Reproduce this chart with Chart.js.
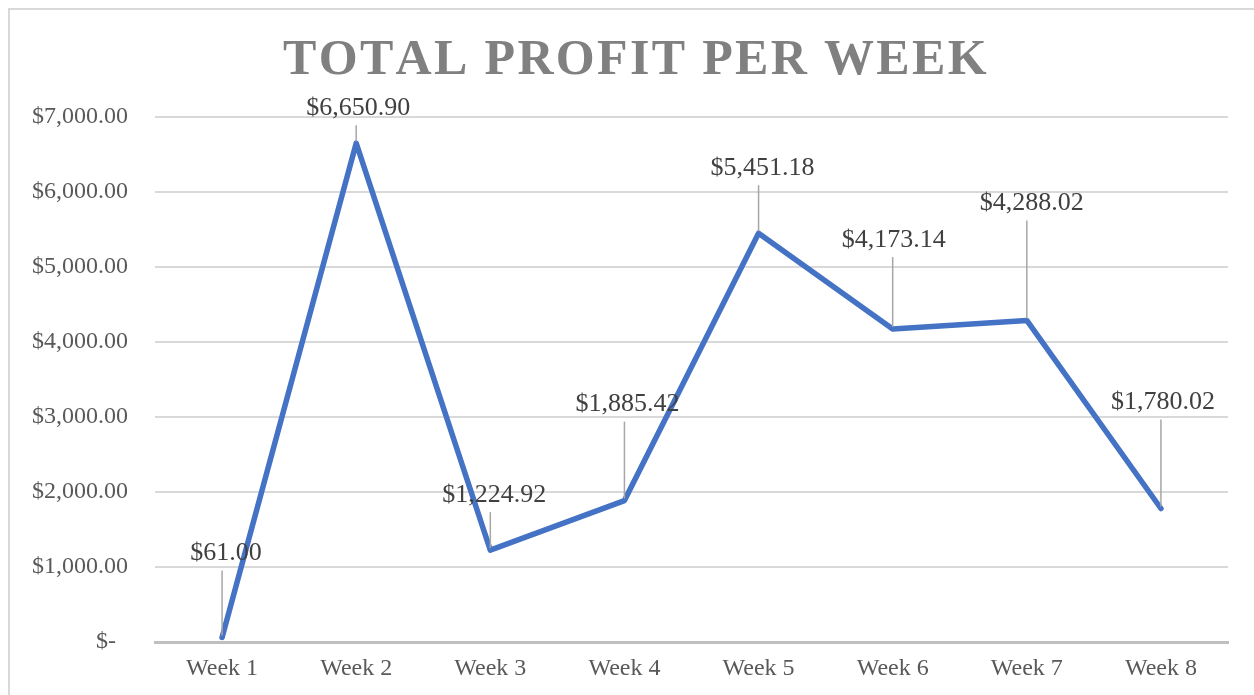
<!DOCTYPE html>
<html>
<head>
<meta charset="utf-8">
<script src="https://cdn.jsdelivr.net/npm/chart.js@4"></script>
<style>
  body { margin: 0; background: #fff; }
  canvas { display: block; }
</style>
</head>
<body>
<canvas id="chart" width="1254" height="695"></canvas>
<script>
"use strict";
///////////////////////////////
//Data
const weeks = ["Week 1", "Week 2", "Week 3", "Week 4", "Week 5", "Week 6", "Week 7", "Week 8"];
const profit = [61.0, 6650.9, 1224.92, 1885.42, 5451.18, 4173.14, 4288.02, 1780.02];
const yTicks = [0, 1000, 2000, 3000, 4000, 5000, 6000, 7000];
const chartTitle = "TOTAL PROFIT PER WEEK";

// where each data label sits, relative to its point (px)
const labelOffsets = [
  [4, -85], [2, -36], [4, -56], [3, -97],
  [4, -66], [1, -90], [5, -118], [2, -107],
];

const serif = '"Liberation Serif", "Times New Roman", serif';

const money = function (v) {
  if (v === 0) return "$-  ";
  return "$" + v.toLocaleString("en-US", { minimumFractionDigits: 2, maximumFractionDigits: 2 });
};

//////////////////////////////
//Plugins

// outer frame + title
const framePlugin = {
  id: "frame",
  beforeDraw(chart) {
    const ctx = chart.ctx;
    ctx.save();
    ctx.fillStyle = "#fff";
    ctx.fillRect(0, 0, chart.width, chart.height);
    ctx.strokeStyle = "#d9d9d9";
    ctx.lineWidth = 2;
    ctx.strokeRect(9, 9, 1300, 700);
    ctx.restore();
  },
  afterDraw(chart) {
    const ctx = chart.ctx;
    ctx.save();
    ctx.font = "bold 50px " + serif;
    ctx.fillStyle = "#808080";
    ctx.textBaseline = "alphabetic";
    ctx.textAlign = "left";
    const chars = chartTitle.split("");
    const plain = ctx.measureText(chartTitle).width;
    const targetW = 699;
    const gap = (targetW - plain) / (chars.length - 1);
    let x = 632.5 - targetW / 2;
    chars.forEach(function (c) {
      ctx.fillText(c, x, 74);
      x += ctx.measureText(c).width + gap;
    });
    ctx.restore();
  },
};

// data labels with leader lines
const labelPlugin = {
  id: "leaderLabels",
  afterDatasetsDraw(chart) {
    const ctx = chart.ctx;
    const meta = chart.getDatasetMeta(0);
    ctx.save();
    ctx.font = "26px " + serif;
    ctx.textAlign = "center";
    ctx.textBaseline = "middle";
    meta.data.forEach(function (pt, i) {
      const off = labelOffsets[i];
      const lx = pt.x + off[0];
      const ly = pt.y + off[1];
      // leader
      ctx.strokeStyle = "#a6a6a6";
      ctx.lineWidth = 1.5;
      ctx.beginPath();
      ctx.moveTo(pt.x, ly + 18);
      ctx.lineTo(pt.x, pt.y - 2);
      ctx.stroke();
      ctx.fillStyle = "#404040";
      ctx.fillText(money(profit[i]), lx, ly + 1);
    });
    ctx.restore();
  },
};

//////////////////////////
//Chart
const chart = new Chart(document.getElementById("chart"), {
  type: "line",
  data: {
    labels: weeks,
    datasets: [
      {
        data: profit,
        borderColor: "#4472C4",
        backgroundColor: "#4472C4",
        borderWidth: 5.5,
        borderCapStyle: "round",
        borderJoinStyle: "round",
        pointRadius: 0,
        tension: 0,
        fill: false,
      },
    ],
  },
  options: {
    responsive: false,
    animation: false,
    devicePixelRatio: 1,
    layout: { padding: { left: 0, right: 26, top: 117, bottom: 0 } },
    plugins: {
      legend: { display: false },
      title: { display: false },
      tooltip: { enabled: false },
    },
    scales: {
      x: {
        offset: true,
        grid: { display: false, drawTicks: false },
        border: { display: true, color: "#bfbfbf", width: 3 },
        ticks: {
          color: "#595959",
          font: { family: serif, size: 24 },
          padding: 12,
          maxRotation: 0,
        },
        afterFit: function (scale) {
          scale.height = 53;
        },
      },
      y: {
        min: 0,
        max: 7000,
        afterBuildTicks: function (scale) {
          scale.ticks = yTicks.map(function (v) {
            return { value: v };
          });
        },
        grid: { color: "#d9d9d9", lineWidth: 2, drawTicks: false },
        border: { display: false },
        ticks: {
          color: "#595959",
          font: { family: serif, size: 24 },
          padding: 27,
          callback: function (value) {
            return money(value);
          },
        },
        afterFit: function (scale) {
          scale.width = 155;
        },
      },
    },
  },
  plugins: [framePlugin, labelPlugin],
});
</script>
</body>
</html>
